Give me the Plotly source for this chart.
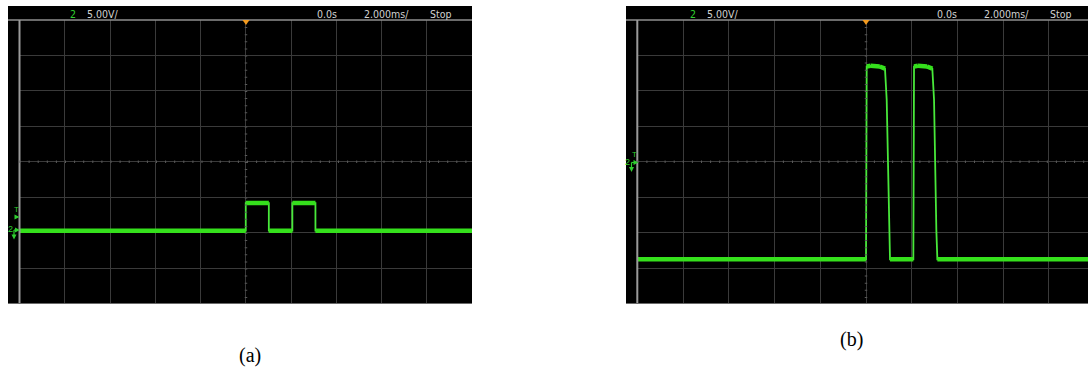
import plotly.graph_objects as go

W, H = 1088, 369

# Channel-2 captures: time in ms, voltage in V (ground = 0 V)
time_a = [-10.0, 0.0, 0.0, 1.02, 1.02, 2.06, 2.06, 3.08, 3.08, 10.0]
volt_a = [0.0, 0.0, 3.9, 3.9, 0.0, 0.0, 3.9, 3.9, 0.0, 0.0]

time_b = [-10.0, 0.0, 0.03, 0.2, 0.6, 0.83, 0.905, 1.006, 1.05,
          2.07, 2.10, 2.27, 2.67, 2.90, 2.975, 3.076, 3.12, 9.71]
volt_b = [0.0, 0.0, 27.2, 27.3, 27.2, 26.9, 22.5, 4.1, 0.0,
          0.0, 27.2, 27.3, 27.2, 26.9, 22.5, 4.1, 0.0, 0.0]

channel = "2"
header_labels = ["5.00V/", "0.0s", "2.000ms/", "Stop"]
captions = ["(a)", "(b)"]

MS_PER_DIV = 2.0
V_PER_DIV = 5.0

GREEN = "#35e01c"
GREEN_EDGE = "#48e83a"
MARK = "#2fcf2f"
GRID = "#3a3a3a"
FRAME = "#8f8f8f"
TEXT = "#d2d2d2"


def px(x):
    return x / W


def py(y):
    return 1 - y / H


def flat_segments(t, v, tol=0.8):
    xs, ys = [], []
    for i in range(len(t) - 1):
        if abs(v[i + 1] - v[i]) < tol:
            xs += [t[i], t[i + 1], None]
            ys += [v[i], v[i + 1], None]
    return xs, ys


def tri_right(x, y, s=3):
    return f"M {px(x - s)} {py(y - s)} L {px(x + s)} {py(y)} L {px(x - s)} {py(y + s)} Z"


def tri_down(x, y, s=3):
    return f"M {px(x - s)} {py(y - s)} L {px(x + s)} {py(y - s)} L {px(x)} {py(y + s)} Z"


fig = go.Figure()

panels = [
    dict(xa="x", ya="y", t=time_a, v=volt_a,
         box=(8, 472), left=19.5, right=472, top=20, bottom=303.5,
         xr=[-10, 10], yr=[-10.27, 29.73], dx=0, center=246,
         t_lbl=(16, 209), t_tri=(17, 217), gnd=(10, 230), cap=(250, 355)),
    dict(xa="x2", ya="y2", t=time_b, v=volt_b,
         box=(626, 1088), left=637.3, right=1088, top=20, bottom=303.5,
         xr=[-10, 9.707], yr=[-6.24, 33.76], dx=620, center=866,
         t_lbl=(634, 154.5), t_tri=None, gnd=(627.5, 162.5), cap=(851, 339)),
]

shapes = []
annotations = []

for i, p in enumerate(panels):
    # waveform: thin stroke for the edges, heavier stroke along the flat (noisy) levels
    fig.add_trace(go.Scatter(x=p["t"], y=p["v"], mode="lines", xaxis=p["xa"], yaxis=p["ya"],
                             line=dict(color=GREEN_EDGE, width=1.8), hoverinfo="skip",
                             showlegend=False))
    fx, fy = flat_segments(p["t"], p["v"])
    fig.add_trace(go.Scatter(x=fx, y=fy, mode="lines", xaxis=p["xa"], yaxis=p["ya"],
                             line=dict(color=GREEN, width=4.5), hoverinfo="skip",
                             showlegend=False))

    x0b, x1b = p["box"]
    # black instrument screen behind the plot area, including header strip
    shapes.append(dict(type="rect", xref="paper", yref="paper", layer="below",
                       x0=px(x0b), x1=px(x1b), y0=py(304), y1=py(6),
                       fillcolor="black", line=dict(width=0)))
    # header separator, left frame and bottom frame
    shapes.append(dict(type="line", xref="paper", yref="paper",
                       x0=px(x0b), x1=px(x1b), y0=py(p["top"]), y1=py(p["top"]),
                       line=dict(color=FRAME, width=1.5)))
    shapes.append(dict(type="line", xref="paper", yref="paper",
                       x0=px(p["left"]), x1=px(p["left"]), y0=py(p["top"]), y1=py(p["bottom"]),
                       line=dict(color="#9a9a9a", width=2)))
    shapes.append(dict(type="line", xref="paper", yref="paper",
                       x0=px(x0b), x1=px(x1b), y0=py(303.5), y1=py(303.5),
                       line=dict(color="#6a6a6a", width=1)))
    # centre axes carry a finer dotted scale
    cx = p["center"]
    cy = (p["top"] + p["bottom"]) / 2
    shapes.append(dict(type="line", xref="paper", yref="paper",
                       x0=px(cx), x1=px(cx), y0=py(p["top"]), y1=py(p["bottom"]),
                       line=dict(color="#5a5a5a", width=2.5, dash="1px,6.1px")))
    shapes.append(dict(type="line", xref="paper", yref="paper",
                       x0=px(p["left"]), x1=px(p["right"]), y0=py(cy), y1=py(cy),
                       line=dict(color="#5a5a5a", width=2.5, dash="1px,8.1px")))
    # trigger position marker
    shapes.append(dict(type="path", xref="paper", yref="paper",
                       path=f"M {px(cx - 3.5)} {py(20)} L {px(cx + 3.5)} {py(20)} L {px(cx)} {py(25)} Z",
                       fillcolor="#f39a1e", line=dict(width=0)))

    # header texts
    dx = p["dx"]
    hdr_font = dict(family="Liberation Sans Narrow, DejaVu Sans Condensed, Liberation Sans, Arial",
                    size=10.5, color=TEXT)
    annotations.append(dict(xref="paper", yref="paper", x=px(68 + dx), y=py(13.5), text=channel,
                            showarrow=False, xanchor="left", yanchor="middle",
                            font=dict(hdr_font, color=MARK)))
    for lbl, xl in zip(header_labels, [85, 315, 362, 428]):
        annotations.append(dict(xref="paper", yref="paper", x=px(xl + dx), y=py(13.5), text=lbl,
                                showarrow=False, xanchor="left", yanchor="middle", font=hdr_font))

    # trigger level and channel ground indicators on the left edge
    mk_font = dict(family="Liberation Sans", color=MARK)
    tx, ty = p["t_lbl"]
    annotations.append(dict(xref="paper", yref="paper", x=px(tx), y=py(ty), text="T",
                            showarrow=False, xanchor="center", yanchor="middle", borderpad=0,
                            font=dict(mk_font, size=8)))
    gx, gy = p["gnd"]
    annotations.append(dict(xref="paper", yref="paper", x=px(gx), y=py(gy - 1), text=channel,
                            showarrow=False, xanchor="center", yanchor="middle", borderpad=0,
                            font=dict(mk_font, size=9)))
    if p["t_tri"] is not None:
        shapes.append(dict(type="path", xref="paper", yref="paper",
                           path=tri_right(p["t_tri"][0], p["t_tri"][1], 2.5),
                           fillcolor=MARK, line=dict(width=0)))
        shapes.append(dict(type="path", xref="paper", yref="paper",
                           path=tri_right(gx + 7.5, gy, 2.5),
                           fillcolor=MARK, line=dict(width=0)))
    else:
        shapes.append(dict(type="path", xref="paper", yref="paper",
                           path=tri_right(gx + 8.5, gy, 2.5),
                           fillcolor=MARK, line=dict(width=0)))
    # ground stem with downward arrow
    shapes.append(dict(type="line", xref="paper", yref="paper",
                       x0=px(gx + 4), x1=px(gx + 4), y0=py(gy), y1=py(gy + 5),
                       line=dict(color=MARK, width=1.2)))
    shapes.append(dict(type="line", xref="paper", yref="paper",
                       x0=px(gx + 4), x1=px(gx + 6.5), y0=py(gy), y1=py(gy),
                       line=dict(color=MARK, width=1.2)))
    shapes.append(dict(type="path", xref="paper", yref="paper",
                       path=tri_down(gx + 4, gy + 7, 2.5),
                       fillcolor=MARK, line=dict(width=0)))

    # caption under the screen
    annotations.append(dict(xref="paper", yref="paper", x=px(p["cap"][0]), y=py(p["cap"][1]),
                            text=captions[i], showarrow=False, xanchor="center", yanchor="middle",
                            font=dict(family="Liberation Serif, DejaVu Serif, serif", size=20,
                                      color="black")))

axis_common = dict(showticklabels=False, ticks="", zeroline=False, showline=False,
                   showgrid=True, gridcolor=GRID, gridwidth=1, fixedrange=True)

layout_axes = {}
for i, p in enumerate(panels):
    sfx = "" if i == 0 else "2"
    layout_axes["xaxis" + sfx] = dict(axis_common, domain=[px(p["left"]), min(px(p["right"]), 1.0)],
                                      range=p["xr"], tick0=-10, dtick=MS_PER_DIV,
                                      anchor="y" + sfx)
    layout_axes["yaxis" + sfx] = dict(axis_common, domain=[py(p["bottom"]), py(p["top"])],
                                      range=p["yr"], tick0=p["yr"][1], dtick=V_PER_DIV,
                                      anchor="x" + sfx)

fig.update_layout(
    width=W, height=H, margin=dict(l=0, r=0, t=0, b=0),
    paper_bgcolor="white", plot_bgcolor="black",
    shapes=shapes, annotations=annotations, showlegend=False,
    **layout_axes,
)

fig.write_html("out.html", config={"displayModeBar": False})
